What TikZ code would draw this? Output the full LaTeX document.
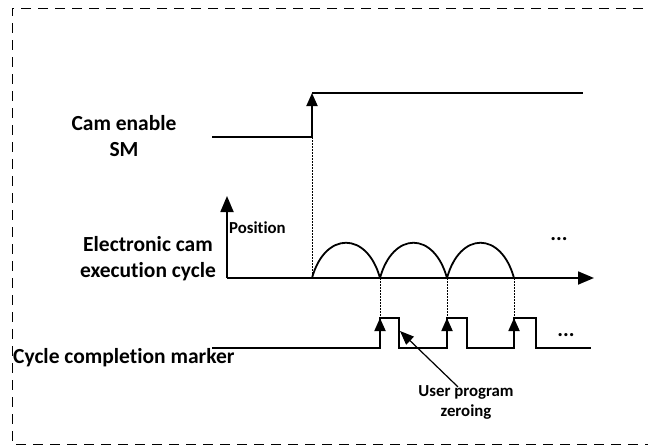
\documentclass[tikz,border=0pt]{standalone}
\usepackage{fontspec}
\setmainfont[Ligatures={NoCommon,NoContextual,NoRare}]{Carlito}
\usetikzlibrary{arrows.meta}
\begin{document}
\begin{tikzpicture}[x=1pt,y=-1pt,
  wave/.style={line width=1.8pt,line join=miter},
  rise/.style={line width=1.8pt,-{Triangle[length=13pt,width=11pt]}},
  axisarrow/.style={line width=1.8pt,-{Triangle[length=16pt,width=13pt]}},
  guide/.style={line width=0.8pt,dash pattern=on 1.5pt off 1.5pt},
  frame/.style={line width=1pt,dash pattern=on 10pt off 7pt},
  biglabel/.style={font=\bfseries\fontsize{21.5}{26}\selectfont,inner sep=0pt},
  smalllabel/.style={font=\bfseries\fontsize{16.8}{20}\selectfont,inner sep=0pt},
  pointer/.style={line width=1.2pt,-{Triangle[length=14pt,width=11pt]}}]
\useasboundingbox (0,0) rectangle (648,447);
% frame (right side lies outside the picture)
\draw[frame] (660,8) -- (12,8) -- (12,444) -- (660,444);

% labels
\node[biglabel,align=center] (cam) at (124,136) {Cam enable\\SM};
\node[biglabel,align=center] (ecam) at (148,259) {Electronic cam\\execution cycle};
\node[biglabel,anchor=west] (ccm) at (13,358) {Cycle completion marker};
\node[smalllabel,anchor=west] (pos) at (229,228) {Position};
\node[smalllabel,align=center] (usr) at (466,402) {User program\\zeroing};
\node[biglabel] (dots1) at (559,239) {...};
\node[biglabel] (dots2) at (566,335) {...};

% cam enable signal
\coordinate (c0) at (212,137);
\coordinate (c1) at (312,137);
\coordinate (c2) at (312,93);
\coordinate (c3) at (583,93);
\draw[wave] (c0) -- (c1);
\draw[rise] (c1) -- (c2);
\draw[wave] (c2) -- (c3);

% axes
\coordinate (o) at (227,278);
\coordinate (yt) at (227,196);
\coordinate (xt) at (594,278);
\draw[axisarrow] (o) -- (yt);
\draw[axisarrow] (o) -- (xt);

% cam arcs
\coordinate (a0) at (312,278);
\coordinate (a1) at (380,278);
\coordinate (a2) at (447,278);
\coordinate (a3) at (514,278);
\draw[wave,line join=round] (a0) .. controls (325,231) and (367,231) .. (a1)
  .. controls (393,231) and (434,231) .. (a2)
  .. controls (460,231) and (501,231) .. (a3);

% dotted guides
\coordinate (p1) at (380,318);
\coordinate (p2) at (447,318);
\coordinate (p3) at (514,318);
\draw[guide] (c1) -- (a0);
\draw[guide] (a1) -- (p1);
\draw[guide] (a2) -- (p2);
\draw[guide] (a3) -- (p3);

% cycle completion marker
\coordinate (b0) at (212,348);
\coordinate (b1) at (380,348);
\coordinate (b2) at (447,348);
\coordinate (b3) at (514,348);
\coordinate (f1) at (399,318);
\coordinate (f2) at (467,318);
\coordinate (f3) at (536,318);
\coordinate (bend) at (591,348);
\draw[wave] (b0) -- (b1) -- (p1) -- (f1) -- (f1 |- b0) -- (b2) -- (p2) -- (f2)
  -- (f2 |- b0) -- (b3) -- (p3) -- (f3) -- (f3 |- b0) -- (bend);
\draw[rise] (b1) -- (p1);
\draw[rise] (b2) -- (p2);
\draw[rise] (b3) -- (p3);

% zeroing pointer
\coordinate (zt) at (400,331);
\draw[pointer] ([xshift=-8pt,yshift=-2pt]usr.north) -- (zt);
\end{tikzpicture}
\end{document}
